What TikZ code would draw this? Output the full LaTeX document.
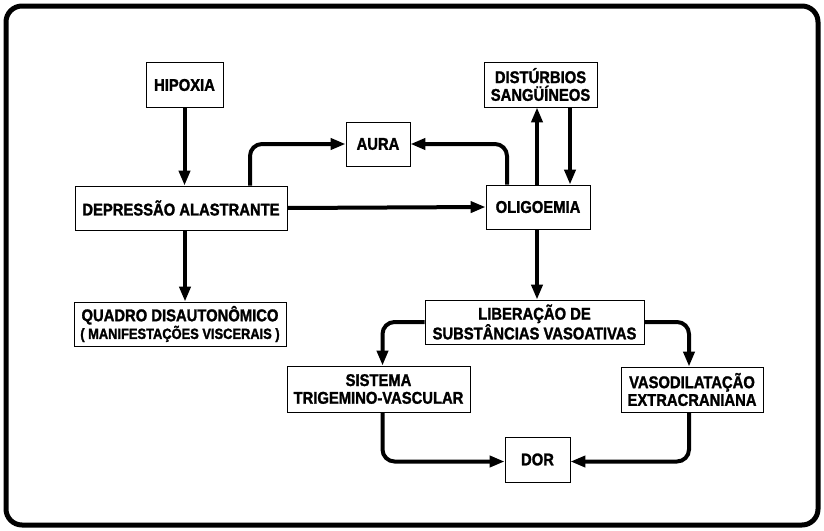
\documentclass[tikz,border=0pt]{standalone}
\usepackage{fontspec}
\setmainfont{Liberation Sans}
\newfontfamily\boxfont[FakeStretch=0.87,FakeBold=1.5]{Liberation Sans Bold}
\usetikzlibrary{arrows.meta}
\begin{document}
\begin{tikzpicture}[x=1pt,y=-1pt,
  box/.style={draw,line width=0.8pt,align=center,inner sep=0pt,
    font=\boxfont\fontsize{17}{17.7}\selectfont},
  link/.style={line width=4pt,rounded corners=12pt,
    -{Triangle[length=15pt,width=11pt]}}]
\useasboundingbox (0,0) rectangle (824,530);
\draw[line width=5pt,rounded corners=16pt] (6,6) rectangle (818,525);
\node[box,minimum width=77pt,minimum height=45pt] (hip) at (184.5,85) {HIPOXIA};
\node[box,minimum width=64pt,minimum height=44pt] (aura) at (378,144) {AURA};
\node[box,minimum width=212pt,minimum height=44pt] (dep) at (181,208) {DEPRESSÃO ALASTRANTE};
\node[box,minimum width=113pt,minimum height=45pt] (dist) at (540.5,84.5) {DISTÚRBIOS\\SANGÜÍNEOS};
\node[box,minimum width=104pt,minimum height=44pt] (olig) at (538,207) {OLIGOEMIA};
\node[box,minimum width=212pt,minimum height=44pt] (quad) at (180,324) {QUADRO DISAUTONÔMICO\\{\fontsize{14.8}{15.5}\selectfont ( MANIFESTAÇÕES VISCERAIS )}};
\node[box,minimum width=219pt,minimum height=44pt] (lib) at (534.5,322) {LIBERAÇÃO DE\\SUBSTÂNCIAS VASOATIVAS};
\node[box,minimum width=183pt,minimum height=46pt] (sist) at (378.5,389) {SISTEMA\\TRIGEMINO-VASCULAR};
\node[box,minimum width=142pt,minimum height=45pt] (vaso) at (692,389.5) {VASODILATAÇÃO\\EXTRACRANIANA};
\node[box,minimum width=65pt,minimum height=45pt] (dor) at (537.5,459.5) {DOR};
\draw[link] (hip.south) -- (hip.south |- dep.north);
\draw[link] ([xshift=4pt]dep.south) -- ([xshift=4pt]dep.south |- quad.north);
\draw[link] ([xshift=69pt]dep.north) |- (aura.west);
\draw[link] ([xshift=-31pt]olig.north) |- (aura.east);
\draw[link] (dep.east) -- (olig.west);
\draw[link] ([xshift=-1pt]olig.north) -- ([xshift=-1pt]olig.north |- dist.south);
\draw[link] ([xshift=29.5pt]dist.south) -- ([xshift=29.5pt]dist.south |- olig.north);
\draw[link] ([xshift=-1pt]olig.south) -- ([xshift=-1pt]olig.south |- lib.north);
\draw[link] (lib.west) -| ([xshift=4pt]sist.north);
\draw[link] (lib.east) -| ([xshift=-3pt]vaso.north);
\draw[link] ([xshift=4pt]sist.south) |- ([yshift=-2pt]dor.west);
\draw[link] ([xshift=-3pt]vaso.south) |- ([yshift=-2pt]dor.east);
\end{tikzpicture}
\end{document}
